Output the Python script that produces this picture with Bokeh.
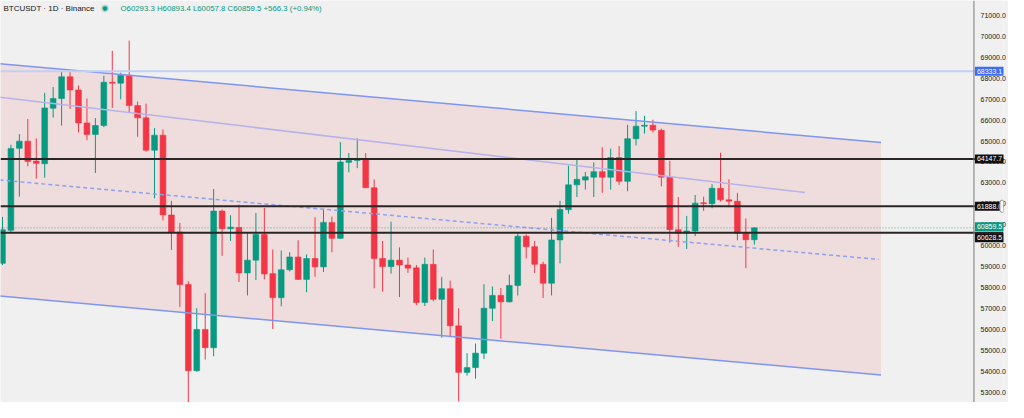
import pandas as pd
from bokeh.plotting import figure
from bokeh.models import Range1d, Span, Label, FixedTicker, PrintfTickFormatter, ColumnDataSource
from bokeh.embed import file_html
from bokeh.resources import INLINE

# ---------------- data (BTCUSDT, 1D, Binance) ----------------
dates = pd.date_range("2024-07-14", periods=90, freq="D")
opens = [59166, 60740, 64652, 64992, 64042, 63918, 66565, 67024, 68065, 67437,
         65863, 65313, 65739, 67804, 67760, 68138, 66689, 66106, 64561, 65281,
         61474, 60662, 58157, 54043, 56015, 55143, 61657, 60818, 60877, 58708,
         59318, 60542, 58675, 57529, 58859, 59469, 58400, 59396, 58997, 61120,
         60359, 63983, 64074, 64134, 62772, 59396, 59010, 59318, 59088, 58951,
         57299, 59120, 57451, 57955, 56185, 53965, 54194, 54882, 57024, 57634,
         57331, 58111, 60464, 59960, 59120, 58217, 60281, 61726, 62909, 63139,
         63276, 63538, 63276, 64212, 63079, 65111, 65707, 65753, 65510, 63276,
         60772, 60602, 60708, 62056, 62010, 62744, 62194, 62129, 60602, 60293.3]
highs = [61382, 64822, 65327, 66047, 65129, 67299, 67574, 68294, 68368, 67652,
         67024, 66093, 68111, 69304, 68262, 69790, 66886, 66781, 65616, 65556,
         62148, 61093, 58309, 57024, 57744, 62712, 61735, 61460, 61964, 60662,
         61565, 61808, 59822, 59776, 59698, 60267, 59593, 61368, 61762, 61396,
         64946, 64423, 65129, 64423, 63171, 60235, 61152, 59928, 59441, 59088,
         59441, 59822, 58524, 58341, 57024, 54882, 55341, 58171, 58065, 57987,
         58630, 60616, 60542, 60235, 59240, 61336, 62148, 63827, 64102, 63524,
         63983, 64698, 64638, 64762, 65772, 66427, 66198, 66015, 65588, 64056,
         62331, 61428, 62423, 62345, 62941, 64441, 63171, 62529, 61304, 60893.4]
lows = [59088, 60616, 62345, 63799, 63203, 63249, 66120, 65739, 66533, 65405,
        65038, 63478, 65662, 66579, 66992, 66350, 65203, 64487, 62267, 61212,
        59808, 57084, 49000, 53997, 54579, 54731, 59524, 60235, 58276, 57634,
        58368, 58400, 56029, 57116, 58781, 58368, 57790, 58524, 58754, 59698,
        60327, 63506, 63707, 62758, 57974, 57818, 58675, 57561, 58708, 57175,
        57130, 57359, 55616, 55648, 52589, 53813, 53662, 54607, 56414, 55570,
        57300, 57634, 59396, 58708, 57515, 57634, 59166, 61533, 62331, 62680,
        62331, 62529, 62680, 62909, 62606, 64790, 65359, 65405, 62836, 60157,
        59960, 59854, 60464, 61671, 61795, 62116, 61840, 60267, 58937, 60057.8]
closes = [60772, 64638, 64992, 64028, 63937, 66579, 67024, 68065, 67437, 65863,
          65313, 65739, 67804, 67758, 68138, 66689, 66106, 64561, 65281, 61474,
          60662, 58157, 54043, 56015, 55143, 61657, 60818, 60891, 58708, 59318,
          60542, 58662, 57529, 58859, 59469, 58400, 59396, 58997, 61120, 60359,
          63996, 64074, 64134, 62772, 59396, 59010, 59318, 59088, 58937, 57299,
          59120, 57451, 57955, 56185, 53965, 54194, 54882, 57024, 57634, 57331,
          58111, 60464, 59960, 59120, 58217, 60281, 61735, 62909, 63171, 63295,
          63538, 63276, 64212, 63079, 65111, 65707, 65753, 65524, 63276, 60772,
          60602, 60708, 62038, 62010, 62744, 62194, 62129, 60602, 60293, 60859.5]

# horizontal levels
level_prices = [64147.7, 61888.0, 60628.5]
level_texts = ["64147.7", "61888.0", "60628.5"]
blue_level = 68333.1
last_price = 60859.5

# drawings (date, price)
channel_dates = ["2024-07-12 00:00", "2024-10-26 00:00"]
channel_upper = [68752, 64926]
channel_lower = [57669, 53843]
mid_dates = ["2024-07-12 00:00", "2024-10-17 00:00"]
mid_prices = [67167, 62540]
dash_dates = ["2024-07-12 00:00", "2024-10-25 17:00"]
dash_prices = [63202, 59354]

tick_values = [53000, 54000, 55000, 56000, 57000, 58000, 59000, 60000, 61000, 62000,
               63000, 64000, 65000, 66000, 67000, 68000, 69000, 70000, 71000]

title_text = "BTCUSDT · 1D · Binance"
ohlc_text = "O60293.3 H60893.4 L60057.8 C60859.5 +566.3 (+0.94%)"

# ---------------- styling ----------------
UP = "#089981"
DOWN = "#f23645"
BG = "#eff0ef"
FONT = "Liberation Sans"
DAY = pd.Timedelta(days=1)
W, H = 1008, 402

x_start = dates[0] - 0.2326 * DAY
x_end = dates[0] + 118.5 * DAY        # right edge of the drawing area
scale_edge = dates[0] + 115.0 * DAY   # where the price scale begins


def to_dt(items):
    return [pd.Timestamp(s) for s in items]


p = figure(width=W, height=H, x_axis_type="datetime",
           x_axis_location=None, y_axis_location="right",
           x_range=Range1d(x_start, x_end), y_range=Range1d(52528.8, 71702.5),
           output_backend="svg", toolbar_location=None, min_border=0,
           background_fill_color=BG, border_fill_color=BG)
p.outline_line_color = None
p.grid.visible = False

# channel fill
cd = to_dt(channel_dates)
p.patch([cd[0], cd[1], cd[1], cd[0]],
        [channel_upper[0], channel_upper[1], channel_lower[1], channel_lower[0]],
        fill_color=DOWN, fill_alpha=0.1, line_color=None)

# candles
colors = [UP if c >= o else DOWN for o, c in zip(opens, closes)]
src = ColumnDataSource(dict(x=dates, o=opens, h=highs, l=lows, c=closes,
                            top=[max(o, c) for o, c in zip(opens, closes)],
                            bot=[min(o, c) for o, c in zip(opens, closes)],
                            col=colors))
p.segment(x0="x", y0="l", x1="x", y1="h", color="col", line_width=1, source=src)
p.vbar(x="x", width=0.68 * 86400000, top="top", bottom="bot",
       fill_color="col", line_color="col", line_width=0.6, source=src)

# channel lines
p.line(cd, channel_upper, line_color="#7f95ef", line_width=1.5)
p.line(cd, channel_lower, line_color="#7f95ef", line_width=1.5)
p.line(to_dt(mid_dates), mid_prices, line_color="#b7b3ea", line_width=1.5)
p.line(to_dt(dash_dates), dash_prices, line_color="#8ea2ee",
       line_width=1.5, line_dash="4 3")

# horizontal lines
p.add_layout(Span(location=blue_level, dimension="width", line_color="#c2d0f6", line_width=2))
for lv in level_prices:
    p.add_layout(Span(location=lv, dimension="width", line_color="#2b2626", line_width=2))
p.add_layout(Span(location=last_price, dimension="width", line_color=UP,
                  line_width=1, line_dash="1 2", line_alpha=0.7))

# price-scale separator
p.add_layout(Span(location=scale_edge, dimension="height", line_color="#7a7a7a", line_width=1))

# y axis: labels drawn back over the scale strip at the right
ax = p.yaxis[0]
ax.ticker = FixedTicker(ticks=tick_values)
ax.formatter = PrintfTickFormatter(format="%.1f")
ax.major_label_text_font = FONT
ax.major_label_text_font_size = "7px"
ax.major_label_text_color = "#131722"
ax.major_tick_line_color = None
ax.minor_tick_line_color = None
ax.major_tick_out = 0
ax.major_tick_in = 0
ax.major_label_standoff = -23
ax.axis_line_color = None


def tag(price, text, color, yoff=0):
    p.add_layout(Label(x=scale_edge, y=price, x_offset=1, y_offset=yoff, text=text,
                       text_color="white", text_font=FONT, text_font_size="7px",
                       text_baseline="middle", text_align="left",
                       background_fill_color=color, padding=2))


tag(blue_level, "68333.1", "#3b6ef8")
tag(level_prices[0], level_texts[0], "#111111")
tag(level_prices[1], level_texts[1], "#111111")
tag(last_price, "60859.5", UP, yoff=1)
tag(level_prices[2], level_texts[2], "#111111", yoff=-5)
# small handle icon on the 61888 tag
p.add_layout(Label(x=scale_edge, y=level_prices[1], x_offset=26, text=" ",
                   text_font_size="9px", text_baseline="middle",
                   background_fill_color="white", border_line_color="#8a8a8a",
                   border_line_width=1, padding=1, border_radius=2))

# header
p.add_layout(Label(x=3, y=H - 7.7, x_units="screen", y_units="screen", text=title_text,
                   text_font=FONT, text_font_size="8px", text_color="#131722",
                   text_baseline="middle"))
p.add_layout(Label(x=104.3, y=H - 7.2, x_units="screen", y_units="screen", text="●",
                   text_font="DejaVu Sans", text_font_size="10px", text_color=UP,
                   text_alpha=0.25, text_baseline="middle", text_align="center"))
p.add_layout(Label(x=104.3, y=H - 7.2, x_units="screen", y_units="screen", text="●",
                   text_font="DejaVu Sans", text_font_size="6px", text_color=UP,
                   text_baseline="middle", text_align="center"))
p.add_layout(Label(x=120, y=H - 7.7, x_units="screen", y_units="screen", text=ohlc_text,
                   text_font=FONT, text_font_size="7.8px", text_color=UP,
                   text_baseline="middle"))

open("out.html", "w").write(file_html(p, INLINE))
